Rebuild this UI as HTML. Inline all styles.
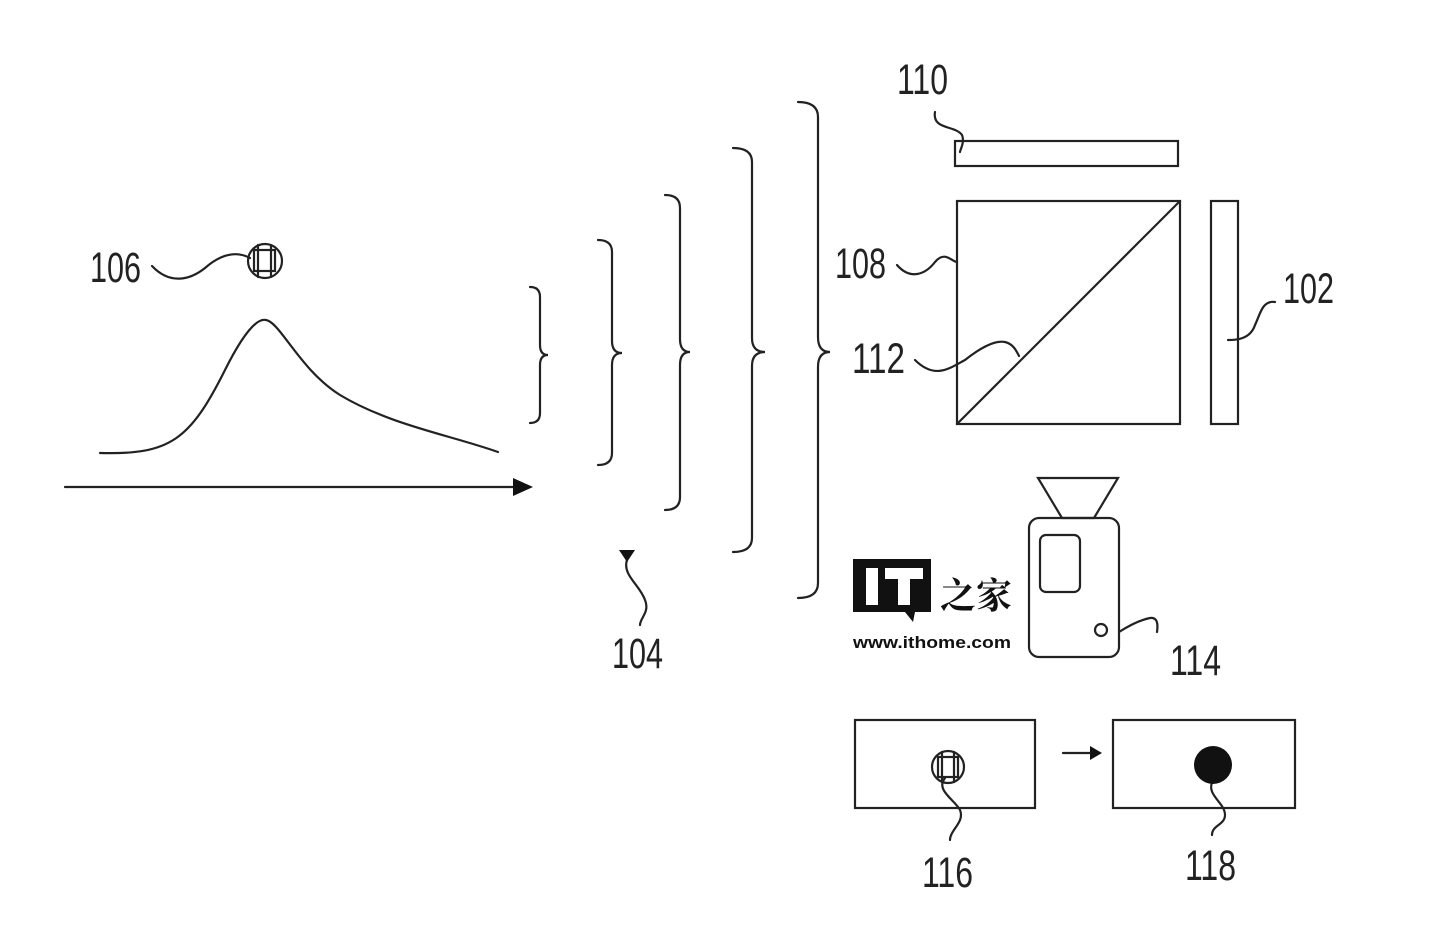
<!DOCTYPE html>
<html><head><style>
html,body{margin:0;padding:0;background:#fff;}
svg{display:block}
.t{font-family:"Liberation Sans",sans-serif;font-size:43px;fill:#222;}
</style></head><body>
<svg width="1430" height="936" viewBox="0 0 1430 936" xmlns="http://www.w3.org/2000/svg">
<g fill="none" stroke="#222" stroke-width="2.2" stroke-linecap="round">
<line x1="65" y1="487" x2="515" y2="487"/>
<path d="M100 453 C170 455 190 440 225 370 C245 330 258 318 266 320 C280 322 300 370 340 395 C390 425 450 435 498 452"/>
<circle cx="265" cy="261" r="17"/>
<rect x="254" y="250" width="21" height="21"/>
<line x1="258" y1="245" x2="258" y2="277"/><line x1="271" y1="245" x2="271" y2="277"/>
<path d="M152 266 C170 285 190 280 205 268 C220 255 235 250 250 258"/>
<path d="M530 287 Q540 287 540 297 L540 345 Q540 355 548 355 Q540 355 540 365 L540 413 Q540 423 530 423"/>
<path d="M598 240 Q612 240 612 252 L612 341 Q612 353 622 353 Q612 353 612 365 L612 453 Q612 465 598 465"/>
<path d="M665 195 Q680 195 680 208 L680 339 Q680 352 690 352 Q680 352 680 365 L680 497 Q680 510 665 510"/>
<path d="M733 148 Q752 148 752 162 L752 338 Q752 352 765 352 Q752 352 752 366 L752 538 Q752 552 733 552"/>
<path d="M798 102 Q818 102 818 117 L818 337 Q818 352 830 352 Q818 352 818 367 L818 583 Q818 598 798 598"/>
<path d="M627 560 C622 575 640 585 645 600 C650 612 640 618 640 625"/>
<rect x="955" y="141" width="223" height="25"/>
<path d="M935 112 C932 130 955 125 962 135 C965 142 960 150 960 152"/>
<rect x="957" y="201" width="223" height="223"/>
<line x1="957" y1="424" x2="1180" y2="201"/>
<path d="M897 265 C910 280 925 275 935 262 C945 250 952 262 957 262"/>
<rect x="1211" y="201" width="27" height="223"/>
<path d="M1275 302 C1262 300 1260 315 1255 325 C1250 340 1235 340 1228 340"/>
<path d="M915 360 C935 380 950 368 965 360 C980 348 995 340 1005 342 C1013 344 1016 350 1019 356"/>
<path d="M1038 478 L1118 478 L1094 518 L1062 518 Z"/>
<rect x="1029" y="518" width="90" height="139" rx="10"/>
<rect x="1040" y="535" width="40" height="57" rx="6"/>
<circle cx="1101" cy="630" r="6"/>
<path d="M1119 632 C1130 625 1140 620 1150 618 C1158 617 1158 625 1157 632"/>
<rect x="855" y="720" width="180" height="88"/>
<rect x="1113" y="720" width="182" height="88"/>
<line x1="1063" y1="753" x2="1092" y2="753"/>
<circle cx="948" cy="767" r="16"/>
<rect x="938" y="757" width="20" height="20"/>
<line x1="942" y1="752" x2="942" y2="782"/><line x1="954" y1="752" x2="954" y2="782"/>
<path d="M945 778 C935 790 955 800 960 810 C965 822 950 830 950 840"/>
<path d="M1213 780 C1205 795 1225 802 1225 815 C1225 825 1212 825 1212 835"/>
</g>
<g fill="#111">
<polygon points="513,478 533,487 513,496"/>
<polygon points="619,550 635,550 627,562"/>
<polygon points="1090,746 1102,753 1090,760"/>
<circle cx="1213" cy="765" r="19"/>
<path d="M853 559 H931 V612 H915 L913 622 L905 612 H853 Z"/>
</g>
<g fill="#fff">
<rect x="866" y="568" width="12" height="37"/>
<rect x="885" y="568" width="38" height="11"/>
<rect x="898" y="568" width="12" height="37"/>
</g>
<text x="940" y="608" font-family="'Noto Serif CJK SC','Noto Sans CJK SC',serif" font-size="36" font-weight="bold" fill="#111">之家</text>
<text x="853" y="648" font-family="'Liberation Sans',sans-serif" font-size="17" font-weight="bold" fill="#111" textLength="158" lengthAdjust="spacingAndGlyphs">www.ithome.com</text>
<text class="t" x="90" y="282" textLength="51" lengthAdjust="spacingAndGlyphs">106</text>
<text class="t" x="612" y="668" textLength="51" lengthAdjust="spacingAndGlyphs">104</text>
<text class="t" x="897" y="94" textLength="51" lengthAdjust="spacingAndGlyphs">110</text>
<text class="t" x="835" y="278" textLength="51" lengthAdjust="spacingAndGlyphs">108</text>
<text class="t" x="1283" y="303" textLength="51" lengthAdjust="spacingAndGlyphs">102</text>
<text class="t" x="852" y="373" textLength="53" lengthAdjust="spacingAndGlyphs">112</text>
<text class="t" x="1170" y="675" textLength="51" lengthAdjust="spacingAndGlyphs">114</text>
<text class="t" x="922" y="887" textLength="51" lengthAdjust="spacingAndGlyphs">116</text>
<text class="t" x="1185" y="880" textLength="51" lengthAdjust="spacingAndGlyphs">118</text>
</svg>
</body></html>
